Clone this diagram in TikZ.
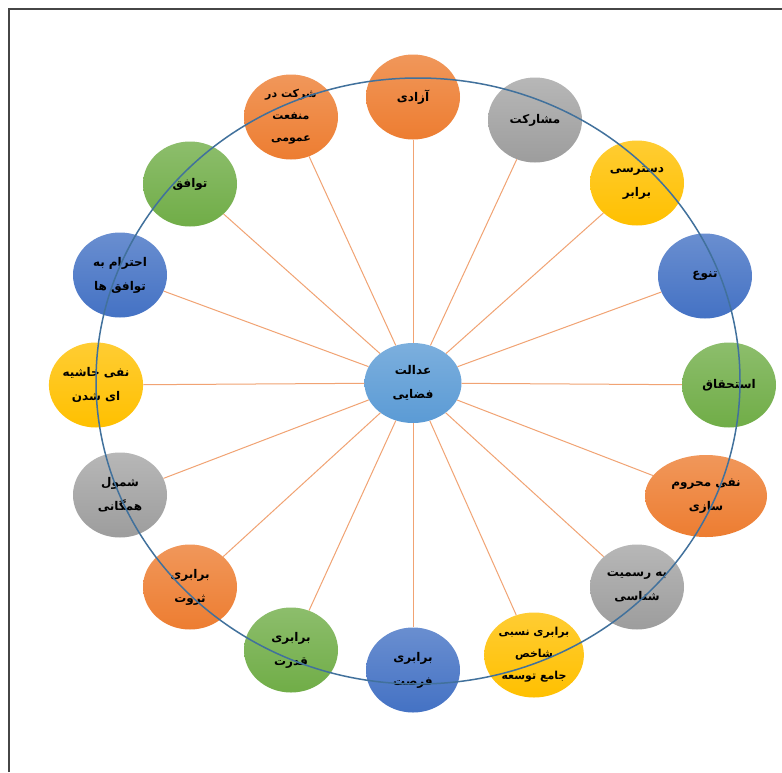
\documentclass[tikz,border=0pt]{standalone}
\usepackage{fontspec}
\usetikzlibrary{shapes.geometric}
\TeXXeTstate=1
\newfontfamily\arabicfont[Script=Arabic]{DejaVu Sans}
\newcommand{\RL}[1]{\beginR #1\endR}
\definecolor{orng}{RGB}{237,125,49}
\definecolor{gry}{RGB}{165,165,165}
\definecolor{yel}{RGB}{255,192,0}
\definecolor{blu}{RGB}{68,114,196}
\definecolor{grn}{RGB}{112,173,71}
\definecolor{cblu}{RGB}{91,155,213}
\definecolor{ringc}{RGB}{65,113,156}
\definecolor{spokec}{RGB}{241,163,115}
\definecolor{framec}{RGB}{70,70,70}
\tikzset{
  bub/.style={ellipse, inner sep=0pt, minimum width=94pt, minimum height=85pt,
    align=center, font=\arabicfont\bfseries\fontsize{12}{24}\selectfont, text=black},
  cO/.style={bub, top color=orng!80!white, bottom color=orng},
  cG/.style={bub, top color=gry!80!white, bottom color=gry!95!black},
  cY/.style={bub, top color=yel!80!white, bottom color=yel},
  cB/.style={bub, top color=blu!80!white, bottom color=blu},
  cN/.style={bub, top color=grn!80!white, bottom color=grn},
  spoke/.style={draw=spokec, line width=1pt},
}
\begin{document}
\begin{tikzpicture}[x=1pt,y=-1pt]
\useasboundingbox (0,0) rectangle (782,772);
\fill[white] (0,0) rectangle (782,772);
\draw[framec, line width=2.2pt] (9,772) coordinate (fl) -- (9,9) coordinate (fc) -- (782,9) coordinate (fr);

\node[bub, top color=cblu!80!white, bottom color=cblu, minimum width=97pt, minimum height=80pt] (c) at (413,383) {\RL{عدالت}\\\RL{فضایی}};

\node[cO] (n1) at (413,97) {\RL{آزادی}};
\node[cG] (n2) at (535,120) {\RL{مشارکت}};
\node[cY] (n3) at (637,183) {\RL{دسترسی}\\\RL{برابر}};
\node[cB] (n4) at (705,276) {\RL{تنوع}};
\node[cN] (n5) at (729,385) {\RL{استحقاق}};
\node[cO, minimum width=122pt, minimum height=82pt] (n6) at (706,496) {\RL{نفی محروم}\\\RL{سازی}};
\node[cG] (n7) at (637,587) {\RL{به رسمیت}\\\RL{شناسی}};
\node[cY, font=\arabicfont\bfseries\fontsize{11}{22}\selectfont] (n8) at (534,655) {\RL{برابری نسبی}\\\RL{شاخص}\\\RL{جامع توسعه}};
\node[cB] (n9) at (413,670) {\RL{برابری}\\\RL{فرصت}};
\node[cN] (n10) at (291,650) {\RL{برابری}\\\RL{قدرت}};
\node[cO] (n11) at (190,587) {\RL{برابری}\\\RL{ثروت}};
\node[cG] (n12) at (120,495) {\RL{شمول}\\\RL{همگانی}};
\node[cY] (n13) at (96,385) {\RL{نفی حاشیه}\\\RL{ای شدن}};
\node[cB] (n14) at (120,275) {\RL{احترام به}\\\RL{توافق ها}};
\node[cN] (n15) at (190,184) {\RL{توافق}};
\node[cO, font=\arabicfont\bfseries\fontsize{11}{22}\selectfont] (n16) at (291,117) {\RL{شرکت در}\\\RL{منفعت}\\\RL{عمومی}};

\foreach \i in {1,...,16} \draw[spoke] (c) -- (n\i);

\draw[ringc, line width=1.5pt] (418,381) ellipse [x radius=322pt, y radius=303pt];
\end{tikzpicture}
\end{document}
